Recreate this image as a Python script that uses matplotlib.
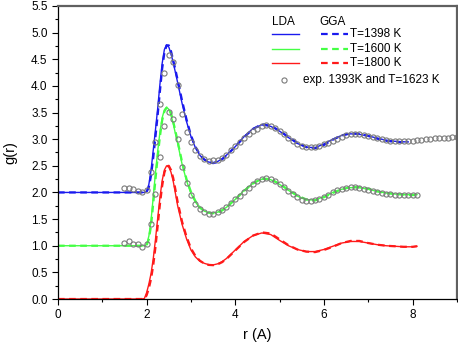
import matplotlib.pyplot as plt
from matplotlib.ticker import MultipleLocator

plt.rcParams['font.family'] = ['Liberation Sans', 'DejaVu Sans']

# simulated g(r): common r grid
r_sim = [0.0, 1.9, 1.95, 2.0, 2.05, 2.1, 2.15, 2.2, 2.25, 2.3, 2.35, 2.4, 2.45,
         2.5, 2.55, 2.6, 2.65, 2.7, 2.8, 2.9, 3.0, 3.1, 3.2, 3.3, 3.4, 3.5,
         3.6, 3.7, 3.8, 4.0, 4.2, 4.4, 4.6, 4.8, 5.0, 5.2, 5.4, 5.6, 5.8,
         6.0, 6.2, 6.4, 6.6, 6.8, 7.0, 7.2, 7.4, 7.6, 7.8, 7.9, 8.0, 8.1]

# T=1398 K (shifted +2), ends at 7.9
lda_1398 = [2.0, 2.0, 2.0, 2.02, 2.15, 2.42, 2.80, 3.18, 3.58, 4.03, 4.42, 4.68, 4.77,
            4.73, 4.60, 4.44, 4.25, 4.06, 3.67, 3.33, 3.05, 2.84, 2.70, 2.61, 2.57, 2.56,
            2.58, 2.63, 2.70, 2.86, 3.05, 3.20, 3.27, 3.24, 3.15, 3.03, 2.92, 2.85, 2.84,
            2.91, 3.00, 3.07, 3.10, 3.09, 3.06, 3.02, 2.98, 2.96, 2.95, 2.95]
gga_1398 = [2.0, 2.0, 2.0, 2.01, 2.10, 2.32, 2.66, 3.05, 3.46, 3.90, 4.32, 4.62, 4.76,
            4.76, 4.65, 4.48, 4.30, 4.11, 3.72, 3.37, 3.07, 2.86, 2.71, 2.62, 2.57, 2.55,
            2.57, 2.62, 2.69, 2.86, 3.04, 3.19, 3.28, 3.25, 3.16, 3.04, 2.93, 2.85, 2.83,
            2.89, 2.99, 3.07, 3.11, 3.10, 3.06, 3.01, 2.97, 2.95, 2.94, 2.95]

# T=1600 K (shifted +1)
lda_1600 = [1.0, 1.0, 1.0, 1.02, 1.18, 1.48, 1.92, 2.38, 2.78, 3.13, 3.40, 3.55, 3.60,
            3.56, 3.45, 3.29, 3.10, 2.92, 2.53, 2.22, 1.98, 1.82, 1.71, 1.65, 1.62, 1.615,
            1.63, 1.67, 1.72, 1.87, 2.04, 2.17, 2.25, 2.24, 2.15, 2.04, 1.93, 1.86, 1.86,
            1.92, 2.00, 2.06, 2.09, 2.09, 2.06, 2.02, 1.99, 1.97, 1.96, 1.96, 1.96, 1.96]
gga_1600 = [1.0, 1.0, 1.0, 1.01, 1.12, 1.38, 1.80, 2.25, 2.67, 3.05, 3.35, 3.52, 3.59,
            3.58, 3.49, 3.33, 3.15, 2.96, 2.57, 2.25, 2.01, 1.84, 1.72, 1.65, 1.62, 1.61,
            1.62, 1.66, 1.72, 1.87, 2.03, 2.17, 2.26, 2.25, 2.16, 2.05, 1.94, 1.87, 1.85,
            1.91, 1.99, 2.06, 2.10, 2.10, 2.07, 2.02, 1.99, 1.97, 1.96, 1.95, 1.95, 1.96]

# T=1800 K
lda_1800 = [0.0, 0.0, 0.01, 0.12, 0.28, 0.48, 0.76, 1.12, 1.52, 1.90, 2.22, 2.42, 2.50,
            2.48, 2.38, 2.21, 1.98, 1.75, 1.40, 1.13, 0.92, 0.79, 0.71, 0.67, 0.645, 0.64,
            0.66, 0.70, 0.76, 0.92, 1.08, 1.19, 1.24, 1.21, 1.10, 1.00, 0.93, 0.89, 0.89,
            0.93, 0.99, 1.05, 1.08, 1.08, 1.05, 1.02, 1.00, 0.99, 0.98, 0.98, 0.98, 0.99]
gga_1800 = [0.0, 0.0, 0.0, 0.07, 0.20, 0.38, 0.64, 0.98, 1.38, 1.78, 2.12, 2.37, 2.49,
            2.50, 2.42, 2.27, 2.05, 1.82, 1.45, 1.17, 0.95, 0.81, 0.72, 0.665, 0.64, 0.635,
            0.65, 0.69, 0.75, 0.91, 1.07, 1.19, 1.25, 1.23, 1.12, 1.01, 0.93, 0.89, 0.88,
            0.92, 0.98, 1.05, 1.09, 1.09, 1.05, 1.02, 1.00, 0.99, 0.98, 0.98, 0.98, 0.99]

# experiment, r = 1.5 ... 9.0 step 0.1
r_exp = [round(1.5 + 0.1 * i, 1) for i in range(76)]
exp_1393 = [2.08, 2.08, 2.06, 2.03, 2.00, 2.04, 2.39, 2.95, 3.66, 4.25,
            4.58, 4.45, 4.01, 3.48, 3.14, 2.95, 2.80, 2.68, 2.62, 2.59,
            2.60, 2.61, 2.64, 2.71, 2.79, 2.87, 2.95, 3.02, 3.09, 3.15,
            3.20, 3.24, 3.26, 3.25, 3.21, 3.15, 3.10, 3.03, 2.96, 2.91,
            2.88, 2.85, 2.85, 2.86, 2.88, 2.90, 2.93, 2.96, 3.00, 3.04,
            3.07, 3.09, 3.10, 3.09, 3.08, 3.06, 3.04, 3.02, 3.00, 2.98,
            2.97, 2.96, 2.96, 2.96, 2.96, 2.97, 2.98, 2.99, 3.00, 3.01,
            3.02, 3.02, 3.03, 3.03, 3.04, 3.04]
exp_1623 = [1.06, 1.09, 1.04, 1.03, 0.98, 1.04, 1.41, 1.98, 2.66, 3.25,
            3.51, 3.37, 3.00, 2.47, 2.17, 1.96, 1.79, 1.68, 1.64, 1.60,
            1.60, 1.63, 1.67, 1.73, 1.80, 1.87, 1.94, 2.01, 2.09, 2.16,
            2.22, 2.26, 2.28, 2.26, 2.21, 2.16, 2.10, 2.02, 1.97, 1.91,
            1.86, 1.84, 1.84, 1.85, 1.88, 1.92, 1.96, 2.00, 2.04, 2.06,
            2.08, 2.10, 2.10, 2.09, 2.07, 2.05, 2.03, 2.01, 1.99, 1.98,
            1.97, 1.96, 1.96, 1.95, 1.95, 1.95, 1.95]

blue = '#1a1aee'
green = '#44ff44'
red = '#ff1a1a'

fig = plt.figure(figsize=(4.58, 3.46), dpi=100)
ax = fig.add_axes([0.1266, 0.1358, 0.871, 0.847])

n_b = len(lda_1398)
ax.plot(r_sim[:n_b], lda_1398, color=blue, lw=1.0)
ax.plot(r_sim[:n_b], gga_1398, color=blue, lw=1.6, ls=(0, (3, 2)))
ax.plot(r_sim, lda_1600, color=green, lw=1.0)
ax.plot(r_sim, gga_1600, color=green, lw=1.6, ls=(0, (3, 2)))
ax.plot(r_sim, lda_1800, color=red, lw=1.0)
ax.plot(r_sim, gga_1800, color=red, lw=1.6, ls=(0, (3, 2)))

mk = dict(ls='none', marker='o', ms=3.7, mfc='none', mec='#7a7a7a', mew=0.8)
ax.plot(r_exp, exp_1393, **mk)
ax.plot(r_exp[:len(exp_1623)], exp_1623, **mk)

# hand-made legend (two columns LDA / GGA)
tr = ax.transAxes
fs = 8.5
ax.text(0.566, 0.946, 'LDA', transform=tr, ha='center', va='center', fontsize=fs)
ax.text(0.688, 0.946, 'GGA', transform=tr, ha='center', va='center', fontsize=fs)
rows = [(0.903, blue, 'T=1398 K'), (0.852, green, 'T=1600 K'), (0.804, red, 'T=1800 K')]
for y, c, lab in rows:
    ax.plot([0.536, 0.604], [y, y], color=c, lw=1.0, transform=tr)
    ax.plot([0.659, 0.728], [y, y], color=c, lw=1.6, ls=(0, (3, 2)), transform=tr)
    ax.text(0.731, y, lab, transform=tr, va='center', fontsize=fs)
ax.plot([0.567], [0.747], transform=tr, **mk)
ax.text(0.615, 0.747, 'exp. 1393K and T=1623 K', transform=tr, va='center', fontsize=fs)

ax.set_xlim(0, 9)
ax.set_ylim(0, 5.5)
ax.xaxis.set_major_locator(MultipleLocator(2))
ax.xaxis.set_minor_locator(MultipleLocator(1))
ax.yaxis.set_major_locator(MultipleLocator(0.5))
ax.yaxis.set_minor_locator(MultipleLocator(0.25))
ax.yaxis.set_major_formatter(plt.FormatStrFormatter('%.1f'))
ax.tick_params(which='both', direction='out', labelsize=8.5, width=0.8)
ax.tick_params(which='major', length=4)
ax.tick_params(which='minor', length=2.5)
ax.tick_params(top=False, right=False)

for s in ['top', 'right']:
    ax.spines[s].set_color('#606060')
    ax.spines[s].set_linewidth(1.6)
for s in ['left', 'bottom']:
    ax.spines[s].set_linewidth(0.9)

ax.set_xlabel('r (A)', fontsize=10.5, labelpad=5)
ax.set_ylabel('g(r)', fontsize=10.5, labelpad=10)

fig.savefig('out.png', dpi=100)
